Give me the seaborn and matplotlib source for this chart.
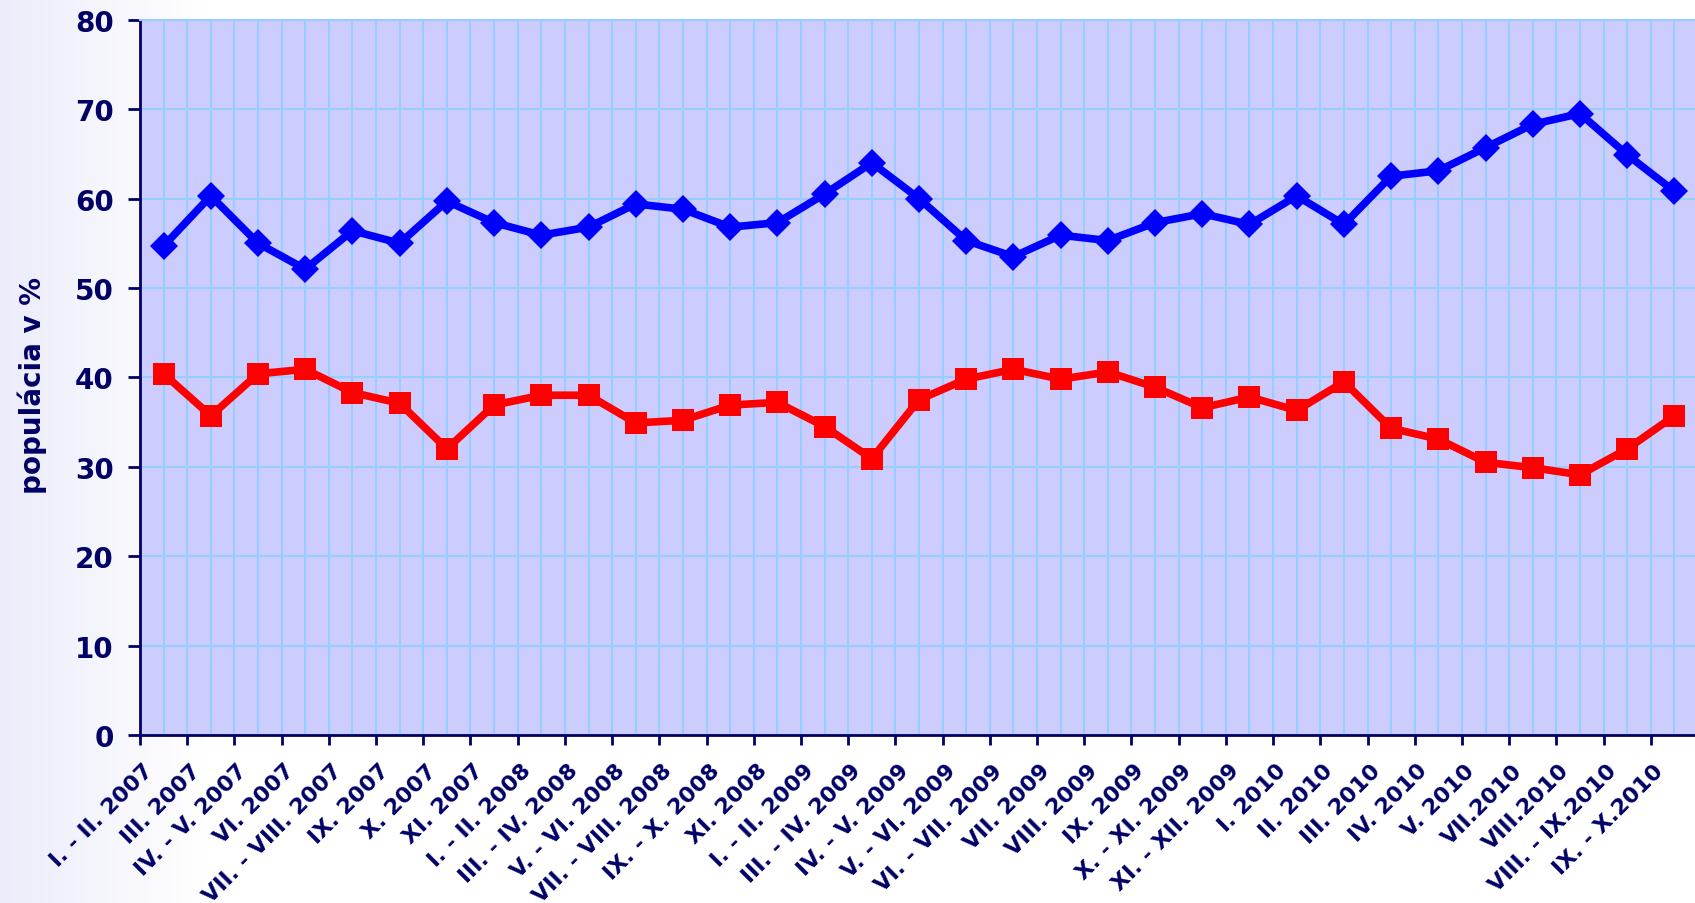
import numpy as np
import pandas as pd
import matplotlib.pyplot as plt
import seaborn as sns
from matplotlib.colors import LinearSegmentedColormap
from matplotlib.transforms import ScaledTranslation

sns.set_theme(style="white")
# the original uses a wide Verdana-like face; DejaVu Sans is the closest one here
plt.rcParams["font.family"] = ["DejaVu Sans"]

# ------------------------------------------------------------
#  data
# ------------------------------------------------------------
obdobia = [
    "I. - II. 2007", "III. 2007", "IV. - V. 2007", "VI. 2007", "VII. - VIII. 2007",
    "IX. 2007", "X. 2007", "XI. 2007", "I. - II. 2008", "III. - IV. 2008",
    "V. - VI. 2008", "VII. - VIII. 2008", "IX. - X. 2008", "XI. 2008", "I. - II. 2009",
    "III. - IV. 2009", "IV. - V. 2009", "V. - VI. 2009", "VI. - VII. 2009", "VII. 2009",
    "VIII. 2009", "IX. 2009", "X. - XI. 2009", "XI. - XII. 2009", "I. 2010",
    "II. 2010", "III. 2010", "IV. 2010", "V. 2010", "VII.2010",
    "VIII.2010", "VIII. - IX.2010", "IX. - X.2010",
]

seria_modra = [
    54.7, 60.3, 55.0, 52.1, 56.4, 55.0, 59.7, 57.3, 55.9, 56.8,
    59.4, 58.8, 56.8, 57.3, 60.5, 64.0, 60.0, 55.3, 53.5, 55.9,
    55.3, 57.3, 58.3, 57.1, 60.3, 57.1, 62.5, 63.1, 65.7, 68.3,
    69.5, 64.9, 60.8,
]

seria_cervena = [
    40.4, 35.7, 40.4, 40.9, 38.3, 37.1, 32.0, 36.9, 38.0, 38.0,
    34.9, 35.2, 36.9, 37.2, 34.5, 30.9, 37.5, 39.8, 40.9, 39.8,
    40.6, 38.9, 36.6, 37.8, 36.3, 39.5, 34.3, 33.1, 30.5, 29.9,
    29.1, 32.0, 35.7,
]

NAVY = "#000066"
GRID = "#99CCFF"

df = pd.DataFrame({
    "pos": np.arange(len(obdobia)),
    "modra": seria_modra,
    "cervena": seria_cervena,
})

fig = plt.figure(figsize=(16.95, 9.04), dpi=100)
fig.patch.set_facecolor("white")

# light lavender fade on the left edge of the chart area
bg = fig.add_axes([0, 0, 1, 1], zorder=-10)
cmap = LinearSegmentedColormap.from_list("fade", ["#ECECFB", "#FFFFFF"])
bg.imshow(np.linspace(0, 1, 256).reshape(1, -1), cmap=cmap, aspect="auto",
          extent=[0, 0.12, 0, 1])
bg.set_xlim(0, 1)
bg.set_ylim(0, 1)
bg.axis("off")

ax = fig.add_axes([140 / 1695, 168 / 904, 1558 / 1695, 715.3 / 904])
ax.set_facecolor("#CCCCFF")

sns.lineplot(data=df, x="pos", y="modra", color="#0000FF", marker="D",
             markersize=14.5, markeredgewidth=0, linewidth=5.5, ax=ax, zorder=3)
sns.lineplot(data=df, x="pos", y="cervena", color="#FF0000", marker="s",
             markersize=15.5, markeredgewidth=0, linewidth=5.5, ax=ax, zorder=3)

# ------------------------------------------------------------
#  axes
# ------------------------------------------------------------
n = len(obdobia)
ax.set_xlim(-0.5, n - 0.5)
ax.set_ylim(0, 80)
ax.set_yticks(range(0, 81, 10))
ax.set_xticks(np.arange(n + 1) - 0.5, [""] * (n + 1))
ax.set_xticks(df["pos"], obdobia, minor=True)

ax.tick_params(axis="x", which="major", bottom=True, length=7, width=2,
               color=NAVY, direction="out")
ax.tick_params(axis="x", which="minor", bottom=True, length=0, pad=23,
               labelsize=16, labelcolor=NAVY)
ax.tick_params(axis="y", left=True, length=9, width=2, color=NAVY,
               direction="out", pad=10, labelsize=20, labelcolor=NAVY)

# rotated labels: end of text sits a bit left of the category centre
shift = ScaledTranslation(-10 / 72, 0, fig.dpi_scale_trans)
for lbl in ax.get_xticklabels(minor=True):
    lbl.set_rotation(45)
    lbl.set_ha("right")
    lbl.set_va("center")
    lbl.set_rotation_mode("anchor")
    lbl.set_fontweight("bold")
    lbl.set_transform(lbl.get_transform() + shift)
for lbl in ax.get_yticklabels():
    lbl.set_fontweight("bold")

ax.set_axisbelow(True)
ax.grid(True, axis="x", which="both", color=GRID, linewidth=1.5)
ax.grid(True, axis="y", which="major", color=GRID, linewidth=1.5)

ax.set_xlabel("")
ax.set_ylabel("populácia v %", fontsize=20, fontweight="bold", color=NAVY)
ax.yaxis.set_label_coords(-0.06, 0.49)

for side in ["left", "bottom"]:
    ax.spines[side].set_color(NAVY)
    ax.spines[side].set_linewidth(2)
ax.spines["top"].set_color(GRID)
ax.spines["top"].set_linewidth(1.5)
ax.spines["right"].set_visible(False)

fig.savefig("out.png", dpi=100)
